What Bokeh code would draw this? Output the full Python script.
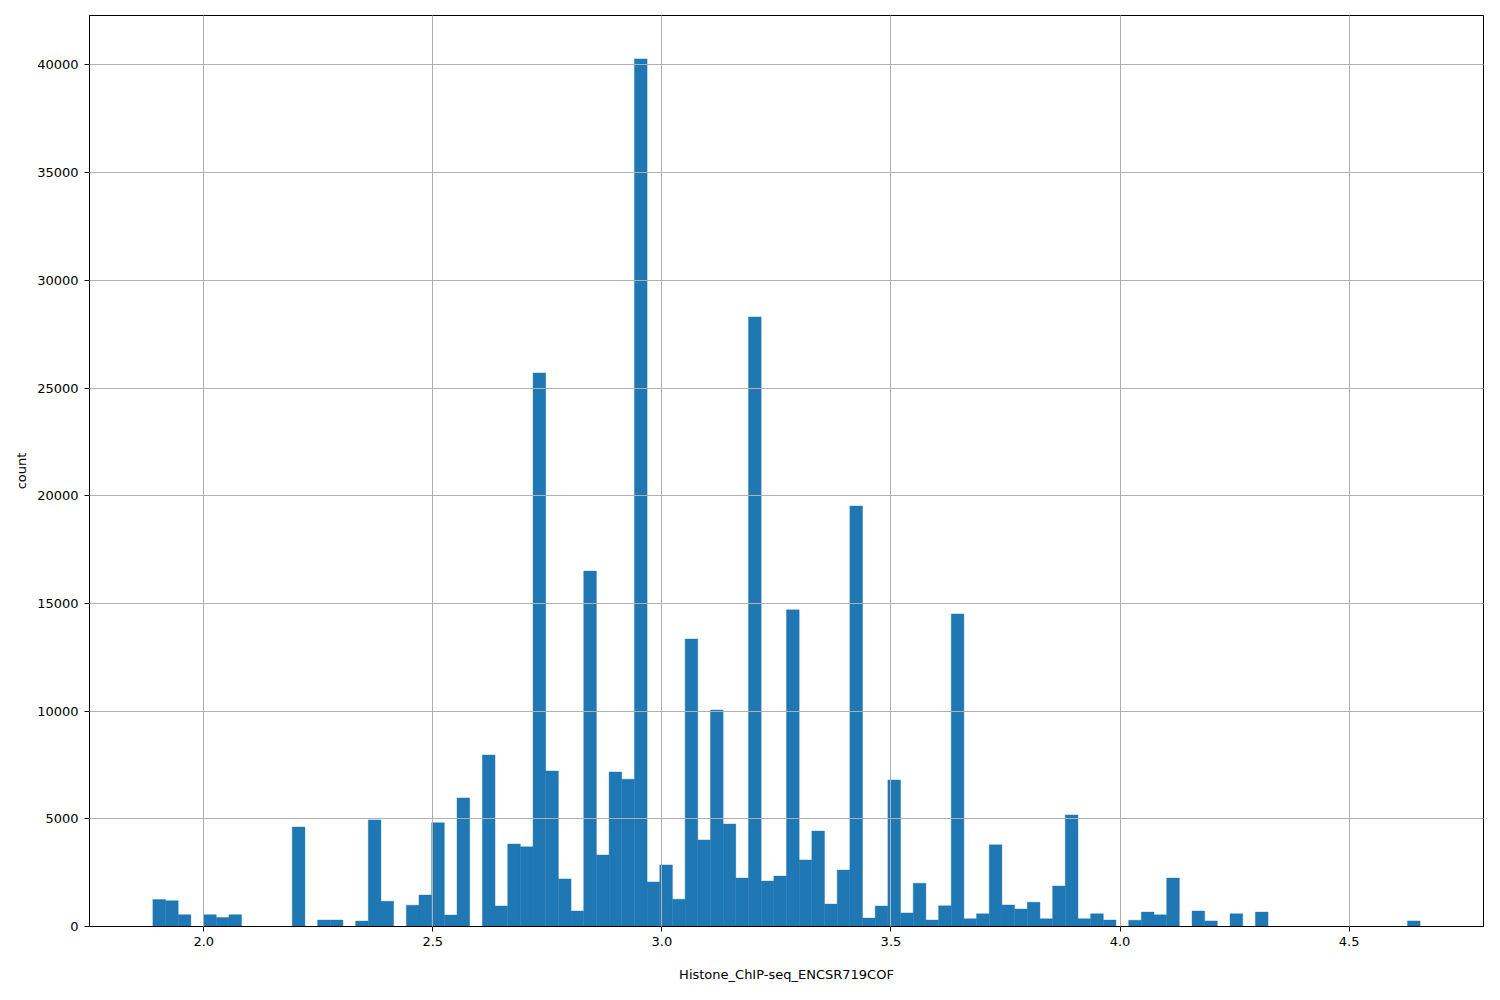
import numpy as np
from bokeh.plotting import figure
from bokeh.models import FixedTicker, NumeralTickFormatter, ColumnDataSource
from bokeh.embed import file_html
from bokeh.resources import INLINE

# Histogram: 100 equal-width bins between data min and max
data_min = 1.889
data_max = 4.655
counts = [
    1250, 1200, 550, 0, 550, 420, 550, 0, 0, 0,
    0, 4620, 0, 300, 300, 0, 250, 4950, 1170, 0,
    990, 1460, 4820, 530, 5970, 0, 7960, 950, 3830, 3700,
    25700, 7220, 2210, 720, 16500, 3320, 7170, 6840, 40280, 2070,
    2860, 1270, 13350, 4020, 10050, 4760, 2250, 28300, 2110, 2340,
    14700, 3090, 4430, 1040, 2620, 19520, 390, 950, 6800, 630,
    2010, 300, 960, 14510, 360, 590, 3790, 1000, 810, 1130,
    360, 1880, 5180, 360, 590, 300, 0, 290, 670, 540,
    2250, 0, 720, 260, 0, 590, 0, 670, 0, 0,
    0, 0, 0, 0, 0, 0, 0, 0, 0, 260,
]
x_ticks = [2.0, 2.5, 3.0, 3.5, 4.0, 4.5]
y_ticks = [0, 5000, 10000, 15000, 20000, 25000, 30000, 35000, 40000]
x_label = "Histone_ChIP-seq_ENCSR719COF"
y_label = "count"

edges = np.linspace(data_min, data_max, len(counts) + 1)
src = ColumnDataSource(dict(left=edges[:-1], right=edges[1:], top=counts, bottom=[0] * len(counts)))

span = data_max - data_min
x0, x1 = data_min - 0.05 * span, data_max + 0.05 * span
y1 = max(counts) * 1.05

p = figure(width=1484, height=984, output_backend="svg", toolbar_location=None,
           x_range=(x0, x1), y_range=(0, y1),
           min_border_left=89, min_border_right=1, min_border_top=15, min_border_bottom=58)

p.quad(left="left", right="right", top="top", bottom="bottom", source=src,
       fill_color="#1f77b4", line_color="#1f77b4", line_width=0.4)

font = "DejaVu Sans"
for ax in (p.xaxis[0], p.yaxis[0]):
    ax.major_label_text_font = font
    ax.major_label_text_font_size = "13px"
    ax.major_label_text_color = "black"
    ax.axis_label_text_font = font
    ax.axis_label_text_font_size = "13px"
    ax.axis_label_text_font_style = "normal"
    ax.axis_label_text_color = "black"
    ax.axis_line_color = "black"
    ax.major_tick_line_color = "black"
    ax.major_tick_out = 5
    ax.major_tick_in = 0
    ax.minor_tick_line_color = None

p.xaxis.ticker = FixedTicker(ticks=x_ticks)
p.xaxis.formatter = NumeralTickFormatter(format="0.0")
p.yaxis.ticker = FixedTicker(ticks=y_ticks)
p.yaxis.formatter = NumeralTickFormatter(format="0")
p.xaxis.axis_label = x_label
p.yaxis.axis_label = y_label
p.xaxis.major_label_standoff = 5
p.xaxis.axis_label_standoff = 18
p.yaxis.major_label_standoff = 6
p.yaxis.axis_label_standoff = 5

for g in (p.xgrid[0], p.ygrid[0]):
    g.grid_line_color = "#b0b0b0"
    g.grid_line_width = 1
    g.level = "overlay"

p.outline_line_color = "black"
p.outline_line_width = 1
p.background_fill_color = "white"
p.border_fill_color = "white"

open("out.html", "w").write(file_html(p, INLINE))
